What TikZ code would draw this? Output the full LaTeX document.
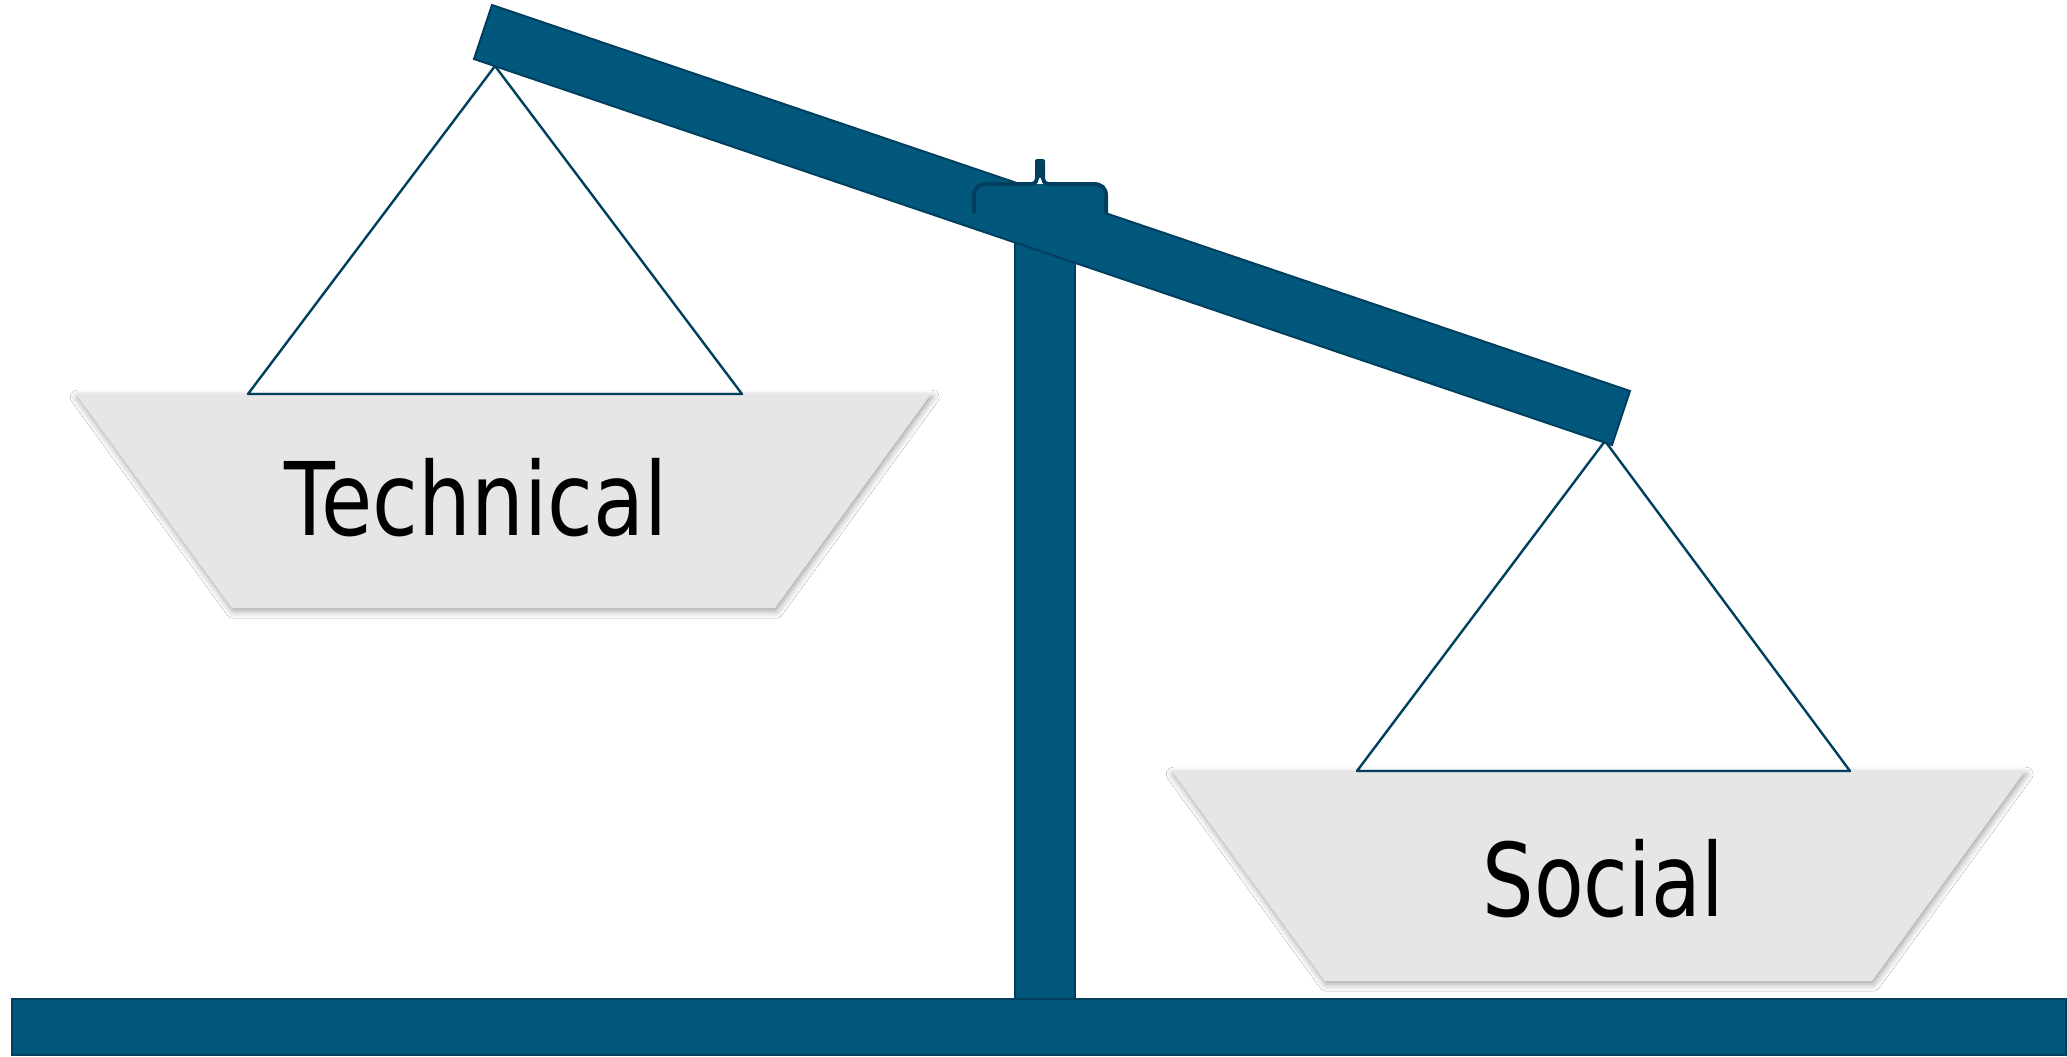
\documentclass[tikz,border=0pt]{standalone}
\usepackage{fontspec}
\newfontfamily\panfont[FakeStretch=0.8]{DejaVu Sans}
\usetikzlibrary{shadows.blur}
\definecolor{scaleblue}{HTML}{02577C}
\definecolor{scaleedge}{HTML}{003F5E}
\definecolor{pangray}{HTML}{E6E6E6}
\begin{document}
\begin{tikzpicture}[x=0.5pt,y=-0.5pt,
  metal/.style={fill=scaleblue,draw=scaleedge,line width=1pt,line join=miter},
  pan/.style={fill=pangray,draw=none,
    blur shadow={shadow xshift=0.6pt,shadow yshift=-1.6pt,shadow blur radius=3.5pt,shadow opacity=38}},
  cord/.style={draw=scaleedge,line width=1.2pt,line join=round},
  panlabel/.style={font=\panfont\fontsize{50.8}{60}\selectfont,anchor=base,inner sep=0pt,text=black}]
\useasboundingbox (0,0) rectangle (2067,1056);
\fill[white] (0,0) rectangle (2067,1056);

% hanging points under the beam ends
\coordinate (lefthook) at (495,66);
\coordinate (righthook) at (1605,441);
% where the cords meet the pans
\coordinate (leftcordA) at (248,394);
\coordinate (leftcordB) at (742,394);
\coordinate (rightcordA) at (1357,771);
\coordinate (rightcordB) at (1850,771);

% pans
\path[pan] (76,394) -- (931,394) -- (775,608) -- (232,608) -- cycle;
\path[pan] (1172,771) -- (2025,771) -- (1872,981) -- (1325,981) -- cycle;

% cords
\draw[cord] (lefthook) -- (leftcordA) -- (leftcordB) -- cycle;
\draw[cord] (righthook) -- (rightcordA) -- (rightcordB) -- cycle;

% labels
\node[panlabel] (technical) at (476,535) {\addfontfeature{FakeStretch=0.82}Technical};
\node[panlabel] (social) at (1603,916) {Social};

% base and post
\draw[metal] (12,999) rectangle (2066,1055);
\draw[metal] (1015,230) rectangle (1075,999);

% tilted beam
\draw[metal] (492,5) -- (1630,391) -- (1612,445) -- (474,59) -- cycle;

% pivot cap
\fill[scaleblue] (974,213) -- (974,196) .. controls (974,188) and (978,184) .. (987,184)
  -- (1093,184) .. controls (1102,184) and (1106,188) .. (1106,196) -- (1106,213) -- cycle;
\draw[scaleedge,line width=2pt,line join=round]
  (974,213) -- (974,196) .. controls (974,188) and (978,184) .. (987,184)
  -- (1031,184) .. controls (1036,184) and (1037,181) .. (1037,175) -- (1037,161)
  -- (1043,161) -- (1043,175) .. controls (1043,181) and (1044,184) .. (1049,184)
  -- (1093,184) .. controls (1102,184) and (1106,188) .. (1106,196) -- (1106,213);
\fill[scaleedge] (1037,160) rectangle (1043,178);
\end{tikzpicture}
\end{document}
